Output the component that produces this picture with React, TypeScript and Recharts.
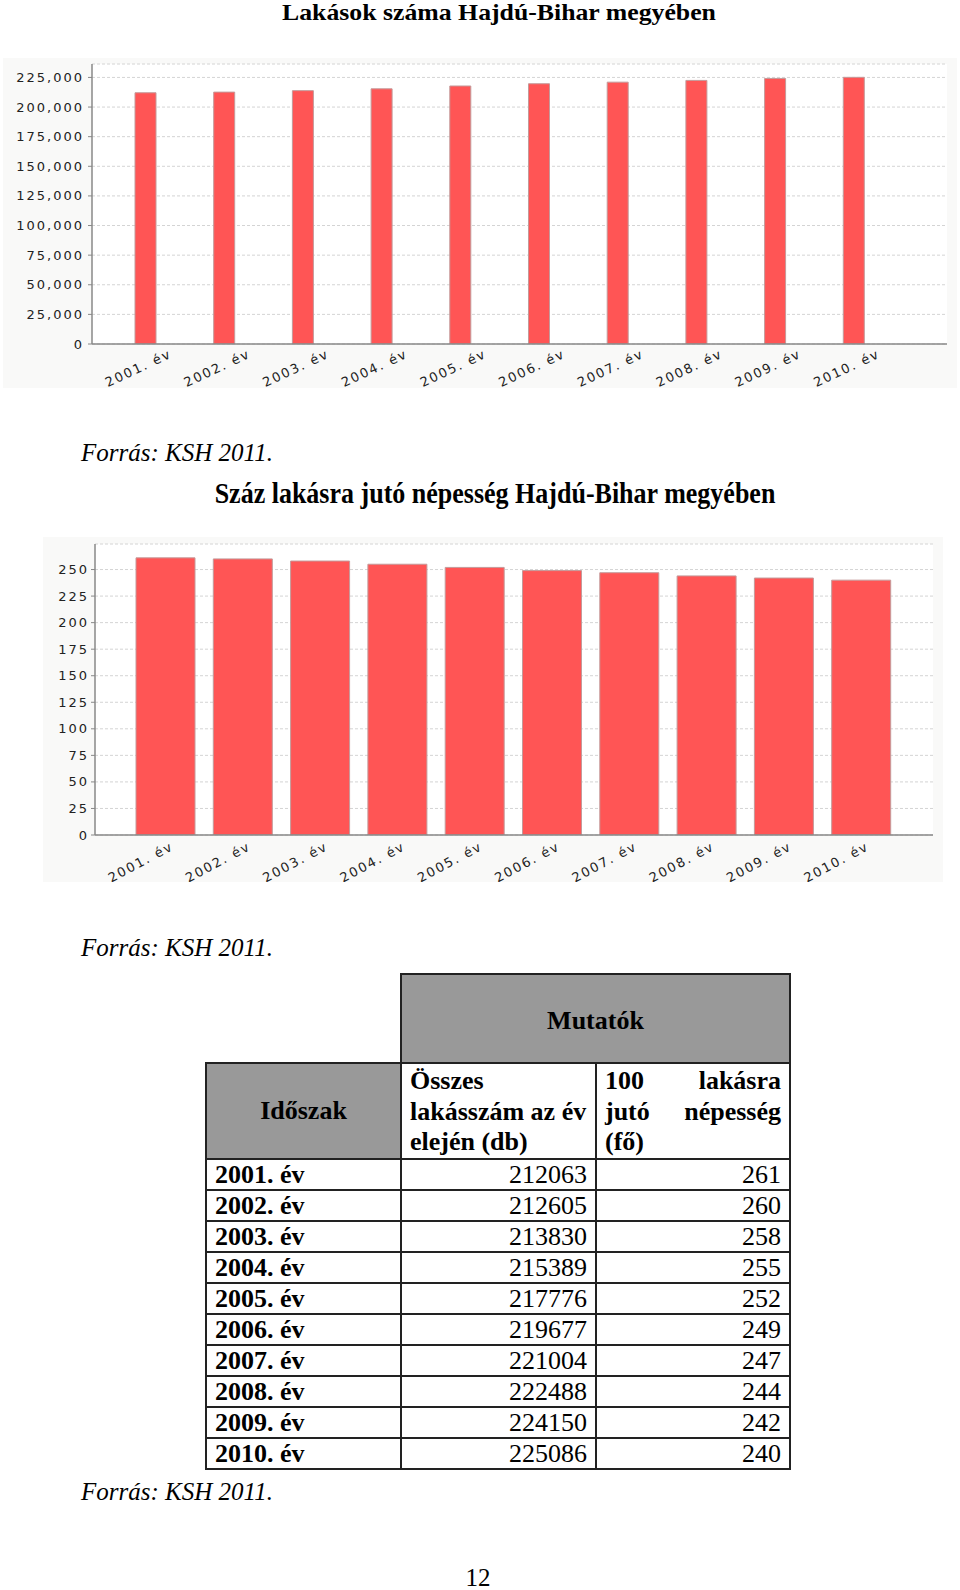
import React from 'react';
import { BarChart, Bar, XAxis, YAxis, CartesianGrid } from 'recharts';

const years = ['2001. év', '2002. év', '2003. év', '2004. év', '2005. év', '2006. év', '2007. év', '2008. év', '2009. év', '2010. év'];
const dwellings = [212063, 212605, 213830, 215389, 217776, 219677, 221004, 222488, 224150, 225086];
const perHundred = [261, 260, 258, 255, 252, 249, 247, 244, 242, 240];
const dwellingTicks = [0, 25000, 50000, 75000, 100000, 125000, 150000, 175000, 200000, 225000];
const perHundredTicks = [0, 25, 50, 75, 100, 125, 150, 175, 200, 225, 250];

const title1 = 'Lakások száma Hajdú-Bihar megyében';
const title2 = 'Száz lakásra jutó népesség Hajdú-Bihar megyében';
const sourceText = 'Forrás: KSH 2011.';
const tableTop = 'Mutatók';
const periodHead = 'Időszak';
const col2Head = ['Összes', 'lakásszám az év', 'elején (db)'];
const col3Head = [['100', 'lakásra'], ['jutó', 'népesség'], ['(fő)']];
const pageNo = '12';

const data1 = years.map((year, i) => ({ year, value: dwellings[i] }));
const data2 = years.map((year, i) => ({ year, value: perHundred[i] }));

const BAR_RED = '#ff5555';
const TICK_FONT = '"DejaVu Sans", Verdana, sans-serif';
const SERIF = '"Liberation Serif", "Times New Roman", serif';

function YearTick(props: any) {
  const { x, y, payload, dx, dy, angle } = props;
  const cx = x + dx;
  const cy = y + dy;
  return (
    <text
      x={cx}
      y={cy}
      transform={`rotate(${-angle}, ${cx}, ${cy})`}
      textAnchor="middle"
      dominantBaseline="central"
      fontSize={13}
      fontFamily={TICK_FONT}
      letterSpacing={1.8}
      fill="#222"
    >
      {payload.value}
    </text>
  );
}

function ValueTick(props: any) {
  const { x, y, payload, comma } = props;
  const label = comma ? payload.value.toLocaleString('en-US') : String(payload.value);
  return (
    <text
      x={x}
      y={y}
      textAnchor="end"
      dominantBaseline="central"
      fontSize={13}
      fontFamily={TICK_FONT}
      letterSpacing={2}
      fill="#222"
    >
      {label}
    </text>
  );
}

function DwellingChart() {
  return (
    <div style={{ position: 'absolute', left: 3, top: 58, width: 954, height: 330, background: '#f9f9f8' }}>
      <BarChart width={954} height={330} data={data1} margin={{ top: 6, right: 10, left: 0, bottom: 0 }}>
        <CartesianGrid horizontal vertical={false} stroke="#d4d4d4" strokeDasharray="3 2" fill="#fff" />
        <XAxis
          dataKey="year"
          height={44}
          padding={{ left: 14, right: 54 }}
          tickSize={0}
          tickMargin={0}
          tickLine={false}
          axisLine={{ stroke: '#888', strokeWidth: 1.5 }}
          interval={0}
          tick={(p: any) => <YearTick {...p} dx={-7} dy={24} angle={25} />}
        />
        <XAxis xAxisId="top" orientation="top" dataKey="year" height={0} tick={false} tickLine={false} axisLine={{ stroke: '#aaa' }} />
        <YAxis
          width={89}
          domain={[0, 236340]}
          ticks={dwellingTicks}
          allowDataOverflow
          tickSize={4}
          tickMargin={4}
          tickLine={{ stroke: '#888' }}
          axisLine={{ stroke: '#888', strokeWidth: 1.5 }}
          tick={(p: any) => <ValueTick {...p} comma />}
        />
        <YAxis yAxisId="right" orientation="right" width={0} domain={[0, 1]} tick={false} tickLine={false} axisLine={{ stroke: '#aaa' }} />
        <Bar dataKey="value" fill={BAR_RED} stroke="#c49a9a" strokeWidth={1} barSize={21} isAnimationActive={false} />
      </BarChart>
    </div>
  );
}

function PerHundredChart() {
  return (
    <div style={{ position: 'absolute', left: 43, top: 537, width: 900, height: 345, background: '#f9f9f8' }}>
      <BarChart width={900} height={345} data={data2} margin={{ top: 7, right: 10, left: 0, bottom: 0 }}>
        <CartesianGrid horizontal vertical={false} stroke="#d4d4d4" strokeDasharray="3 2" fill="#fff" />
        <XAxis
          dataKey="year"
          height={47}
          padding={{ left: 32, right: 33 }}
          tickSize={0}
          tickMargin={0}
          tickLine={false}
          axisLine={{ stroke: '#888', strokeWidth: 1.5 }}
          interval={0}
          tick={(p: any) => <YearTick {...p} dx={-25} dy={27} angle={28} />}
        />
        <XAxis xAxisId="top" orientation="top" dataKey="year" height={0} tick={false} tickLine={false} axisLine={{ stroke: '#aaa' }} />
        <YAxis
          width={52}
          domain={[0, 274.05]}
          ticks={perHundredTicks}
          allowDataOverflow
          tickSize={4}
          tickMargin={2}
          tickLine={{ stroke: '#888' }}
          axisLine={{ stroke: '#888', strokeWidth: 1.5 }}
          tick={(p: any) => <ValueTick {...p} />}
        />
        <YAxis yAxisId="right" orientation="right" width={0} domain={[0, 1]} tick={false} tickLine={false} axisLine={{ stroke: '#aaa' }} />
        <Bar dataKey="value" fill={BAR_RED} stroke="#c49a9a" strokeWidth={1} barSize={59} isAnimationActive={false} />
      </BarChart>
    </div>
  );
}

const border = '2px solid #222';
const grey = '#999';

function DataTable() {
  const cell: React.CSSProperties = { border, padding: '0 8px', lineHeight: '29px' };
  return (
    <table
      style={{
        position: 'absolute',
        left: 205,
        top: 973,
        width: 584,
        borderCollapse: 'collapse',
        tableLayout: 'fixed',
        fontFamily: SERIF,
        fontSize: 26,
        color: '#000',
      }}
    >
      <colgroup>
        <col style={{ width: 195 }} />
        <col style={{ width: 195 }} />
        <col style={{ width: 194 }} />
      </colgroup>
      <tbody>
        <tr style={{ height: 89 }}>
          <td style={{ border: 'none', padding: 0 }} />
          <td colSpan={2} style={{ ...cell, background: grey, textAlign: 'center', fontWeight: 'bold', paddingTop: 3 }}>
            {tableTop}
          </td>
        </tr>
        <tr style={{ height: 93 }}>
          <td style={{ ...cell, background: grey, textAlign: 'center', fontWeight: 'bold' }}>{periodHead}</td>
          <td style={{ ...cell, verticalAlign: 'top', fontWeight: 'bold', lineHeight: '30.5px', paddingTop: 2 }}>
            {col2Head.map((l) => (
              <div key={l} style={{ whiteSpace: 'nowrap' }}>{l}</div>
            ))}
          </td>
          <td style={{ ...cell, verticalAlign: 'top', fontWeight: 'bold', lineHeight: '30.5px', paddingTop: 2 }}>
            {col3Head.map((parts, i) => (
              <div key={i} style={{ display: 'flex', justifyContent: 'space-between' }}>
                {parts.map((w) => (
                  <span key={w}>{w}</span>
                ))}
              </div>
            ))}
          </td>
        </tr>
        {years.map((y, i) => (
          <tr key={y} style={{ height: 29 }}>
            <td style={{ ...cell, fontWeight: 'bold' }}>{y}</td>
            <td style={{ ...cell, textAlign: 'right' }}>{dwellings[i]}</td>
            <td style={{ ...cell, textAlign: 'right' }}>{perHundred[i]}</td>
          </tr>
        ))}
      </tbody>
    </table>
  );
}

export default function App() {
  const source = (top: number) => (
    <div
      style={{
        position: 'absolute',
        left: 81,
        top,
        fontFamily: SERIF,
        fontStyle: 'italic',
        fontSize: 25,
        lineHeight: '25px',
        whiteSpace: 'nowrap',
      }}
    >
      {sourceText}
    </div>
  );
  return (
    <div style={{ position: 'absolute', left: 0, top: 0, width: 960, height: 1590, background: '#fff', overflow: 'hidden' }}>
      <div
        style={{
          position: 'absolute',
          left: 499,
          top: 1,
          transform: 'translateX(-50%) scaleX(1.12)',
          fontFamily: SERIF,
          fontWeight: 'bold',
          fontSize: 23,
          lineHeight: '23px',
          whiteSpace: 'nowrap',
        }}
      >
        {title1}
      </div>
      <DwellingChart />
      {source(440)}
      <div
        style={{
          position: 'absolute',
          left: 495,
          top: 481,
          transform: 'translateX(-50%) scaleY(1.15)',
          fontFamily: SERIF,
          fontWeight: 'bold',
          fontSize: 26,
          lineHeight: '26px',
          whiteSpace: 'nowrap',
        }}
      >
        {title2}
      </div>
      <PerHundredChart />
      {source(935)}
      <DataTable />
      {source(1479)}
      <div
        style={{
          position: 'absolute',
          left: 478,
          top: 1565,
          transform: 'translateX(-50%)',
          fontFamily: SERIF,
          fontSize: 25,
          lineHeight: '25px',
        }}
      >
        {pageNo}
      </div>
    </div>
  );
}
